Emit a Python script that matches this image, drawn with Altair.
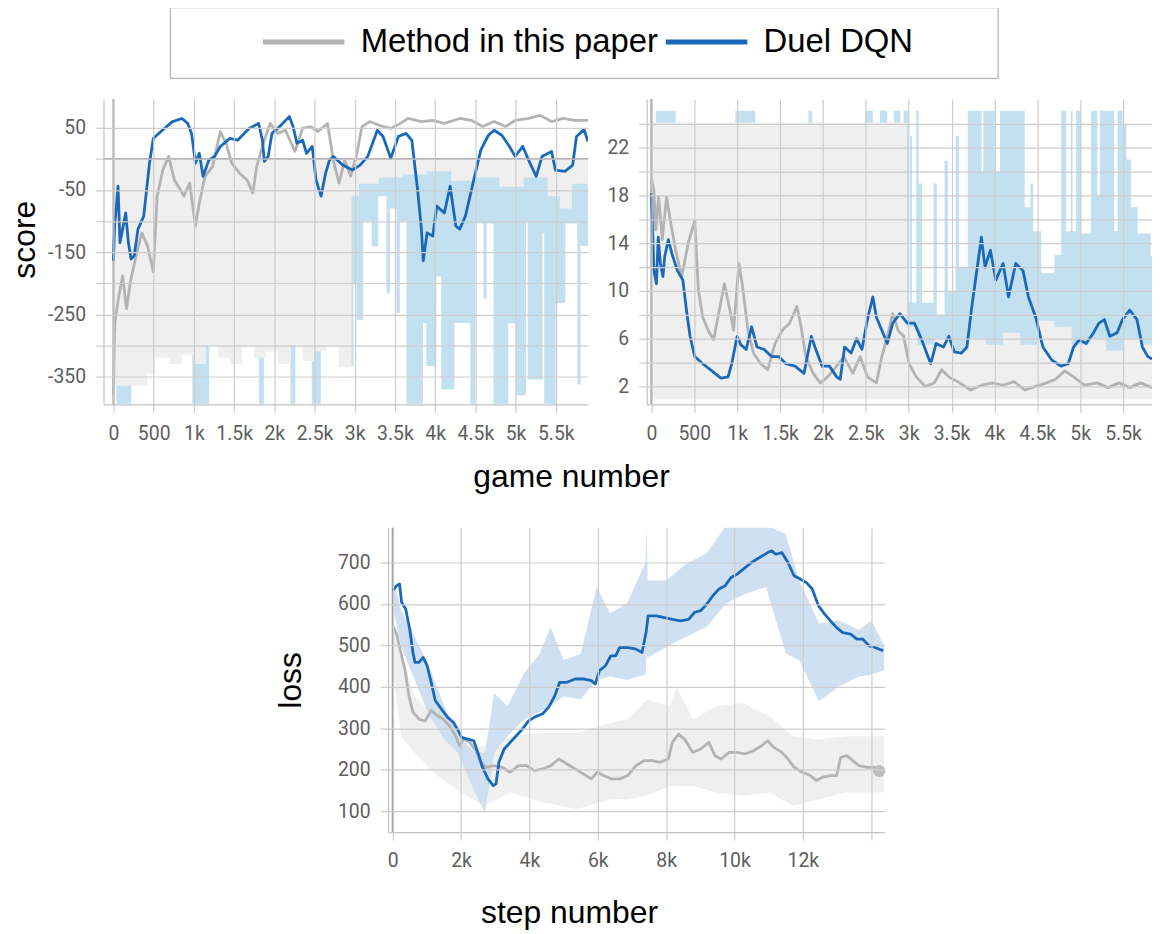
import altair as alt
import pandas as pd

SERIES = ["Method in this paper", "Duel DQN"]
GRAY = "#b3b3b3"
BLUE = "#1a69b8"
RAW_GRAY = "#efefef"
RAW_BLUE = "#c3e0f1"
RAW_BLUE_LOSS = "#c9ddf1"
ZERO = "#9e9e9e"

# ---------------- top-left panel: score vs game number ----------------
tl_duel_x = [0, 14, 57, 81, 114, 152, 186, 219, 257, 305, 376, 448, 495, 590, 733, 852, 924, 971, 1019, 1067,
             1114, 1186, 1257, 1329, 1448, 1543, 1686, 1805, 1852, 1876, 1924, 1971, 2067, 2186, 2233, 2281, 2352,
             2400, 2471, 2519, 2581, 2638, 2686, 2733, 2850, 2971, 3067, 3162, 3281, 3352, 3448, 3543, 3638, 3710,
             3781, 3829, 3852, 3900, 3971, 4019, 4114, 4186, 4257, 4305, 4376, 4471, 4567, 4662, 4733, 4829, 4924,
             4995, 5090, 5162, 5257, 5329, 5448, 5495, 5614, 5710, 5757, 5852, 5900]
tl_duel_y = [-164, -108, -44, -135, -113, -87, -135, -161, -156, -113, -92, -7, 33, 44, 60, 65, 57, 41, -7, 9,
             -28, -2, 4, 20, 33, 30, 49, 57, 30, -4, 4, 41, 52, 68, 52, 25, 30,
             9, 20, -34, -60, -23, -2, 4, -10, -18, -10, 4, 46, 36, 1, 36, 41, 30,
             -49, -113, -164, -119, -124, -76, -87, -44, -108, -113, -92, -39, 14, 38, 46, 38, 20,
             4, 20, -2, -28, 4, 12, -18, -20, -10, 36, 47, 28]
tl_method_x = [0, 10, 19, 67, 114, 162, 210, 281, 352, 424, 495, 543, 614, 686, 757, 829, 876, 948, 1019, 1067,
               1138, 1233, 1329, 1400, 1471, 1567, 1662, 1733, 1781, 1876, 1948, 2043, 2138, 2257, 2352, 2448,
               2543, 2662, 2733, 2805, 2876, 2948, 3019, 3090, 3186, 3305, 3448, 3567, 3662, 3829, 3971, 4114,
               4305, 4448, 4590, 4733, 4876, 4995, 5162, 5305, 5448, 5590, 5733, 5900]
tl_method_y = [-380, -300, -262, -220, -188, -241, -198, -156, -119, -140, -182, -60, -18, 4, -34, -49, -60, -39,
               -108, -71, -28, -12, 44, 25, -7, -23, -34, -55, -12, 30, 57, 41, 46, 12, 49, 52,
               44, 57, -2, -39, -2, -28, 4, 52, 60, 54, 49, 57, 65, 60, 62, 57,
               65, 62, 52, 60, 52, 62, 65, 70, 60, 65, 62, 62]
# raw (unsmoothed) runs: lower edge of the faint band, band reaches the top of the plot
tl_raw_method_x = [0, 420, 520, 700, 850, 1000, 1150, 1300, 1450, 1600, 1750, 1900, 2050, 2200, 2350, 2500,
                   2650, 2800, 2960, 3050, 3300, 3600, 3900, 4200, 4500, 4800, 5100, 5400, 5550, 5700, 5900]
tl_raw_method_lo = [-365, -345, -320, -330, -315, -330, -300, -320, -330, -300, -320, -310, -330, -300, -325,
                    -310, -300, -335, -60, -40, -30, -25, -20, -35, -30, -45, -30, -60, -80, -40, -40]
tl_raw_duel_x = [0, 36, 221, 980, 1190, 1808, 1870, 2200, 2262, 2465, 2578, 2942, 2983, 3024, 3107, 3210, 3292,
                 3395, 3437, 3519, 3560, 3643, 3849, 3890, 4014, 4076, 4240, 4437, 4495, 4600, 4640, 4725, 4910,
                 5006, 5130, 5150, 5335, 5356, 5500, 5620, 5767, 5808, 5900]
tl_raw_duel_lo = [-250, -394, -300, -394, -300, -394, -300, -394, -300, -394, -300, -333, -200, -259, -100, -141,
                  -60, -216, -80, -248, -100, -394, -264, -333, -189, -371, -264, -394, -104, -225, -104, -394,
                  -264, -380, -100, -355, -120, -394, -232, -104, -363, -140, -140]

# ---------------- top-right panel ----------------
tr_duel_x = [0, 30, 59, 80, 105, 135, 156, 198, 240, 304, 367, 409, 451, 506, 599, 705, 810, 894, 937, 1000,
             1042, 1105, 1169, 1232, 1316, 1401, 1485, 1569, 1675, 1780, 1865, 1907, 1991, 2076, 2160, 2202, 2253,
             2329, 2392, 2455, 2519, 2582, 2624, 2687, 2751, 2814, 2898, 2983, 3067, 3152, 3257, 3320, 3405, 3468,
             3531, 3616, 3679, 3742, 3806, 3848, 3890, 3953, 4016, 4101, 4164, 4248, 4333, 4396, 4481, 4565, 4670,
             4776, 4860, 4923, 4987, 5071, 5155, 5218, 5282, 5345, 5430, 5493, 5577, 5662, 5725, 5788, 5837]
tr_duel_y = [18.2, 11.7, 10.6, 14.5, 12.3, 11.2, 12.9, 14.3, 13.1, 11.7, 10.9, 8.4, 6.2, 4.5, 3.9, 3.3, 2.7, 2.8,
             3.9, 6.2, 5.5, 5.1, 7.0, 5.3, 5.1, 4.5, 4.5, 3.9, 3.7, 3.1, 6.2, 5.3, 3.7, 3.7, 2.8, 2.6, 5.3,
             4.8, 6.0, 5.1, 7.6, 9.5, 7.8, 6.7, 5.6, 7.3, 8.1, 7.3, 7.3, 5.9, 3.9, 5.6, 5.3, 6.2,
             4.9, 4.8, 5.3, 9.0, 12.3, 14.5, 12.0, 13.4, 10.9, 12.3, 9.5, 12.3, 11.7, 9.5, 7.8, 5.3, 4.2,
             3.7, 3.9, 5.3, 5.9, 5.6, 6.5, 7.3, 7.6, 6.2, 6.5, 7.6, 8.4, 7.6, 5.3, 4.5, 4.3]
tr_method_x = [0, 30, 51, 84, 127, 177, 228, 283, 354, 430, 506, 548, 599, 662, 726, 776, 852, 915, 958, 1021,
               1063, 1126, 1190, 1274, 1358, 1443, 1527, 1612, 1696, 1738, 1801, 1886, 1970, 2055, 2160, 2244,
               2350, 2434, 2519, 2624, 2687, 2751, 2814, 2877, 2941, 3004, 3088, 3194, 3299, 3384, 3468, 3595,
               3721, 3848, 3974, 4101, 4227, 4354, 4481, 4607, 4713, 4818, 4923, 5050, 5198, 5324, 5451, 5577,
               5704, 5837]
tr_method_y = [19.5, 18.4, 15.1, 17.9, 14.3, 17.9, 15.6, 13.4, 11.2, 14.0, 15.9, 10.1, 7.8, 6.7, 5.9, 7.8, 10.6,
               8.4, 6.7, 12.3, 10.4, 6.7, 4.8, 3.9, 3.4, 5.6, 6.7, 7.3, 8.7, 7.3, 4.5, 3.1, 2.3, 2.8, 3.7, 4.5,
               3.1, 4.5, 2.8, 2.3, 4.5, 6.2, 8.1, 6.7, 6.2, 3.9, 2.8, 2.0, 2.3, 3.4, 2.8, 2.3,
               1.7, 2.1, 2.3, 2.1, 2.4, 1.7, 2.0, 2.3, 2.6, 3.3, 2.8, 2.1, 2.3, 1.9, 2.3, 1.9, 2.3, 1.9]
tr_raw_method_x = [0, 2980, 3100, 3300, 3500, 3700, 3900, 4100, 4300, 4500, 4700, 4900, 5100, 5300, 5500, 5700, 5837]
tr_raw_method_lo = [0.9, 0.9, 0.9, 0.9, 0.9, 0.9, 0.9, 0.9, 0.9, 0.9, 0.9, 0.9, 0.9, 0.9, 0.9, 0.9, 0.9]
tr_raw_method_hi = [24.1, 7.0, 5.5, 6.0, 5.0, 6.0, 5.5, 6.5, 5.5, 7.5, 7.0, 5.5, 6.0, 5.0, 6.0, 5.5, 5.5]
tr_raw_duel_x = [0, 51, 283, 979, 1211, 1831, 1873, 2497, 2582, 2666, 2751, 2826, 2903, 2941, 2992, 3019, 3039,
                 3089, 3116, 3155, 3290, 3328, 3418, 3457, 3548, 3587, 3688, 3850, 3870, 4005, 4063, 4353, 4420,
                 4450, 4546, 4700, 4778, 4836, 4890, 4910, 4952, 5010, 5126, 5200, 5230, 5397, 5436, 5494, 5540,
                 5591, 5668, 5822, 5837]
tr_raw_duel_lo = [1.5] * len(tr_raw_duel_x)
tr_raw_duel_hi = [23.5, 25.1, 23.5, 25.1, 23.5, 25.1, 23.5, 25.1, 23.5, 25.1, 23.5, 25.1, 23.5, 25.1, 9.0, 23.0,
                  9.0, 25.1, 19.0, 9.0, 19.0, 8.0, 20.9, 10.0, 23.0, 12.0, 25.1, 20.0, 25.1, 20.0, 25.1, 17.0,
                  19.0, 15.0, 11.5, 13.0, 25.1, 15.0, 25.1, 15.0, 25.1, 14.8, 25.1, 18.0, 25.1, 15.0, 25.1, 24.0,
                  21.0, 17.0, 14.8, 12.9, 12.9]

# ---------------- bottom panel: loss vs step number ----------------
bot_duel_x = [0, 119, 202, 261, 380, 498, 593, 652, 771, 890, 1008, 1127, 1245, 1423, 1601, 1779, 1921, 2016,
              2194, 2372, 2491, 2609, 2787, 2941, 3024, 3107, 3261, 3439, 3617, 3795, 3973, 4151, 4388, 4566,
              4744, 4886, 5100, 5337, 5574, 5811, 5930, 6049, 6227, 6381, 6523, 6642, 6879, 7116, 7294, 7413,
              7472, 7709, 7946, 8183, 8420, 8658, 8835, 9013, 9191, 9369, 9547, 9725, 9903, 10081, 10259, 10496,
              10733, 10971, 11090, 11208, 11386, 11564, 11742, 11920, 12098, 12276, 12454, 12632, 12810, 12988,
              13165, 13402, 13580, 13758, 13936, 14114, 14351]
bot_duel_y = [632, 644, 648, 604, 588, 539, 483, 459, 459, 471, 451, 411, 367, 347, 327, 314, 294, 278,
              274, 270, 242, 210, 178, 162, 166, 218, 250, 266, 282, 298, 318, 327, 335, 351,
              379, 411, 411, 419, 419, 415, 407, 439, 451, 475, 475, 495, 495, 491, 483, 531,
              571, 571, 567, 563, 559, 563, 580, 584, 600, 620, 636, 644, 664, 672, 684, 700,
              712, 724, 728, 720, 724, 700, 668, 660, 652, 636, 596, 576, 559, 543,
              531, 527, 515, 515, 499, 495, 487]
bot_method_x = [0, 119, 237, 356, 474, 593, 771, 949, 1127, 1304, 1482, 1660, 1838, 1957, 2075, 2253, 2431, 2585,
                2728, 2965, 3202, 3439, 3676, 3914, 4151, 4388, 4625, 4863, 5100, 5337, 5574, 5811, 5989, 6167,
                6404, 6642, 6879, 7116, 7353, 7590, 7828, 8065, 8183, 8361, 8539, 8776, 9013, 9250, 9428, 9606,
                9844, 10081, 10318, 10555, 10793, 10971, 11149, 11386, 11564, 11742, 11979, 12216, 12394, 12572,
                12810, 12988, 13106, 13284, 13462, 13639, 13877, 14114, 14232]
bot_method_y = [547, 527, 483, 443, 379, 339, 322, 318, 343, 331, 322, 306, 282, 258, 274, 266, 246, 218,
                206, 210, 206, 194, 210, 210, 198, 202, 210, 226, 214, 202, 190, 178, 194, 186,
                178, 178, 186, 210, 222, 222, 218, 226, 266, 286, 274, 242, 250, 266, 234, 226,
                242, 242, 238, 246, 258, 270, 254, 242, 226, 206, 194, 186, 174, 182,
                186, 186, 230, 234, 222, 210, 206, 206, 194]
bot_last_x = [14232]
bot_last_y = [197]
bot_raw_duel_x = [0, 250, 640, 1030, 1510, 1900, 2380, 2700, 2970, 3360, 3840, 4300, 4620, 5000, 5500, 5970, 6360,
                  6850, 7400, 7430, 7460, 8010, 8590, 9180, 9760, 10340, 10920, 11500, 11890, 12470, 13050, 13640,
                  14000, 14380]
bot_raw_duel_lo = [593, 497, 417, 337, 273, 241, 150, 97, 241, 281, 321, 340, 353, 377, 370, 417, 425,
                   417, 430, 481, 470, 497, 521, 545, 601, 625, 641, 481, 465, 365, 401, 425, 430, 440]
bot_raw_duel_hi = [665, 585, 521, 457, 353, 289, 241, 241, 385, 353, 433, 480, 545, 465, 480, 641, 577,
                   601, 700, 790, 657, 657, 697, 721, 790, 790, 790, 769, 657, 553, 561, 537, 560, 500]
bot_raw_method_x = [0, 250, 640, 1320, 2000, 2680, 3450, 4420, 5390, 6360, 6850, 7430, 8110, 8300, 8790, 9470,
                    10240, 11020, 11700, 12470, 13250, 14380]
bot_raw_method_lo = [441, 281, 241, 185, 145, 113, 145, 121, 105, 129, 129, 137, 161, 160, 161, 145, 137, 145,
                     113, 129, 145, 145]
bot_raw_method_hi = [560, 481, 377, 321, 257, 257, 281, 289, 289, 313, 321, 369, 353, 400, 321, 353, 361, 329,
                     281, 273, 281, 281]

game_ticks = [0, 500, 1000, 1500, 2000, 2500, 3000, 3500, 4000, 4500, 5000, 5500]
step_ticks = [0, 2000, 4000, 6000, 8000, 10000, 12000, 14000]
score_ticks = [-350, -300, -250, -200, -150, -100, -50, 0, 50]
tr_ticks = [2, 4, 6, 8, 10, 12, 14, 16, 18, 20, 22, 24]
loss_ticks = [100, 200, 300, 400, 500, 600, 700]

K_LABEL = ("datum.value == 0 ? '0' : (datum.value < 1000 ? '' + datum.value : "
           "format(datum.value / 1000, '~g') + 'k')")


def line_df(xs, ys, name):
    return pd.DataFrame({"x": xs, "y": ys, "series": name})


def band_df(xs, lo, hi=None):
    d = pd.DataFrame({"x": xs, "y": lo})
    if hi is not None:
        d["y2"] = hi
    return d


legend = alt.Legend(orient="none", legendX=250, legendY=18, direction="horizontal", title=None,
                    symbolType="M-1,0L7,0", symbolSize=420, symbolStrokeWidth=5,
                    labelOffset=71.5, labelFont="Liberation Sans", labelFontSize=33, labelColor="#000000",
                    columnPadding=-3, padding=0, labelLimit=0)
color = alt.Color("series:N", scale=alt.Scale(domain=SERIES, range=[GRAY, BLUE]), legend=legend)


def xenc(dom, values, expr, title="", tx=None, ty=None):
    ax = dict(values=values, labelExpr=expr, labelFlush=False, labelOverlap=False, title=title,
              labelPadding=12, zindex=1)
    if tx is not None:
        ax.update(titleX=tx, titleY=ty, titleAlign="center", titleBaseline="alphabetic", titleAngle=0)
    return alt.X("x:Q", scale=alt.Scale(domain=dom, nice=False, zero=False), axis=alt.Axis(**ax))


def yenc(dom, values, expr=None, title="", tx=None, ty=None):
    ax = dict(values=values, labelFlush=False, labelOverlap=False, title=title, labelPadding=10, zindex=1)
    if tx is not None:
        ax.update(titleX=tx, titleY=ty, titleAlign="center", titleBaseline="alphabetic", titleAngle=270)
    if expr is not None:
        ax["labelExpr"] = expr
    return alt.Y("y:Q", scale=alt.Scale(domain=dom, nice=False, zero=False), axis=alt.Axis(**ax))


def smooth_layers(X, Y, gx, gy, bx, by):
    g = alt.Chart(line_df(gx, gy, SERIES[0])).mark_line(strokeWidth=2.8, strokeJoin="round", clip=True).encode(
        x=X, y=Y, color=color)
    b = alt.Chart(line_df(bx, by, SERIES[1])).mark_line(strokeWidth=2.8, strokeJoin="round", clip=True).encode(
        x=X, y=Y, color=color)
    return [g, b]


# ---- top-left ----
X1 = xenc([-124, 5900], game_ticks, K_LABEL, "game number", 470, 83)
Y1 = yenc([-394.8, 96.4], score_ticks,
          "(datum.value + 350) % 100 == 0 ? (datum.value < 0 ? '-' + (-datum.value) : '' + datum.value) : ''",
          "score", -69, 141)
tl = alt.layer(
    alt.Chart(band_df(tl_raw_duel_x, tl_raw_duel_lo)).mark_area(
        color=RAW_BLUE, interpolate="step-after", clip=True).encode(x=X1, y=Y1, y2=alt.value(0)),
    alt.Chart(band_df(tl_raw_method_x, tl_raw_method_lo)).mark_area(
        color=RAW_GRAY, interpolate="step-after", clip=True).encode(x=X1, y=Y1, y2=alt.value(0)),
    alt.Chart(pd.DataFrame({"y": [0]})).mark_rule(color=ZERO, strokeWidth=2).encode(y=Y1),
    alt.Chart(pd.DataFrame({"x": [0]})).mark_rule(color=ZERO, strokeWidth=2).encode(x=X1),
    *smooth_layers(X1, Y1, tl_method_x, tl_method_y, tl_duel_x, tl_duel_y),
).properties(width=487, height=307)

# ---- top-right ----
X2 = xenc([-55, 5837], game_ticks, K_LABEL)
Y2 = yenc([0.5, 26.08], tr_ticks, "(datum.value - 2) % 4 == 0 ? '' + datum.value : ''")
tr = alt.layer(
    alt.Chart(band_df(tr_raw_duel_x, tr_raw_duel_lo, tr_raw_duel_hi)).mark_area(
        color=RAW_BLUE, interpolate="step-after", clip=True).encode(x=X2, y=Y2, y2="y2:Q"),
    alt.Chart(band_df(tr_raw_method_x, tr_raw_method_lo, tr_raw_method_hi)).mark_area(
        color=RAW_GRAY, interpolate="step-after", clip=True).encode(x=X2, y=Y2, y2="y2:Q"),
    alt.Chart(pd.DataFrame({"x": [0]})).mark_rule(color=ZERO, strokeWidth=2).encode(x=X2),
    *smooth_layers(X2, Y2, tr_method_x, tr_method_y, tr_duel_x, tr_duel_y),
).properties(width=508, height=307)

# ---- bottom ----
X3 = xenc([-137, 14386], step_ticks, "datum.value >= 14000 ? '' : (" + K_LABEL + ")", "step number", 182, 91)
Y3 = yenc([49.6, 784], loss_ticks, None, "loss", -88, 153)
bot = alt.layer(
    alt.Chart(band_df(bot_raw_method_x, bot_raw_method_lo, bot_raw_method_hi)).mark_area(
        color=RAW_GRAY, clip=True).encode(x=X3, y=Y3, y2="y2:Q"),
    alt.Chart(band_df(bot_raw_duel_x, bot_raw_duel_lo, bot_raw_duel_hi)).mark_area(
        color=RAW_BLUE_LOSS, opacity=0.9, clip=True).encode(x=X3, y=Y3, y2="y2:Q"),
    alt.Chart(pd.DataFrame({"x": [0]})).mark_rule(color=ZERO, strokeWidth=2).encode(x=X3),
    *smooth_layers(X3, Y3, bot_method_x, bot_method_y, bot_duel_x, bot_duel_y),
    alt.Chart(pd.DataFrame({"x": bot_last_x, "y": bot_last_y})).mark_circle(
        size=150, color="#bdbdbd", opacity=1).encode(x=X3, y=Y3),
).properties(width=499, height=306)


def blank(w, h, stroke=False):
    c = alt.Chart(pd.DataFrame({"v": [0]})).mark_text(opacity=0, fontSize=1).encode(
        text=alt.value(" "), x=alt.value(w / 2), y=alt.value(h / 2))
    if stroke:
        return c.properties(width=w, height=h, view=alt.ViewBackground(stroke="#b5b5b5", strokeWidth=1.2))
    return c.properties(width=w, height=h)


row0 = alt.hconcat(blank(163, 71), blank(832, 71, stroke=True), spacing=0, bounds="flush")
row1 = alt.hconcat(blank(96, 307), tl, blank(59, 307), tr, spacing=0, bounds="flush")
row2 = alt.hconcat(blank(382, 306), bot, spacing=0, bounds="flush")

chart = alt.vconcat(row0, blank(1, 19), row1, blank(1, 34), row2, spacing=0, bounds="full").properties(
    padding={"left": 0, "top": -4, "right": 0, "bottom": 0}
).configure_view(strokeWidth=0).configure_axis(
    gridColor="#cdcdcd", gridWidth=1.2, domainColor="#c2c2c2", domainWidth=1.2,
    tickColor="#cdcdcd", tickSize=8, tickWidth=1.2,
    labelFont="Roboto", labelFontSize=19.5, labelColor="#5e5e5e",
    titleFont="Liberation Sans", titleFontSize=32, titleColor="#000000", titleFontWeight="normal",
)

chart.save("out.html", embed_options={"renderer": "svg", "actions": False})
